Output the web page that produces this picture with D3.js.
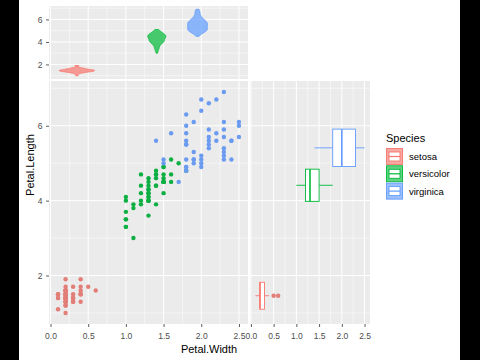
<!DOCTYPE html>
<html><head><meta charset="utf-8">
<script src="https://cdn.jsdelivr.net/npm/d3@7"></script>
<style>
body{margin:0;background:#fff}
svg{display:block}
text{font-family:"Liberation Sans",Arial,sans-serif}
</style>
</head><body>
<svg id="c" width="480" height="360"></svg>
<script>
// ---------- data (iris) ----------
const species = ["setosa", "versicolor", "virginica"];
const colors = ["#F8766D", "#00BA38", "#619CFF"];
const pointColors = ["#E27D77", "#0DAF43", "#6A9BF0"];

const setosaLength = [1.4,1.4,1.3,1.5,1.4,1.7,1.4,1.5,1.4,1.5,1.5,1.6,1.4,1.1,1.2,1.5,1.3,1.4,1.7,1.5,1.7,1.5,1.0,1.7,1.9,1.6,1.6,1.5,1.4,1.6,1.6,1.5,1.5,1.4,1.5,1.2,1.3,1.4,1.3,1.5,1.3,1.3,1.3,1.6,1.9,1.4,1.6,1.4,1.5,1.4];
const setosaWidth = [0.2,0.2,0.2,0.2,0.2,0.4,0.3,0.2,0.2,0.1,0.2,0.2,0.1,0.1,0.2,0.4,0.4,0.3,0.3,0.3,0.2,0.4,0.2,0.5,0.2,0.2,0.4,0.2,0.2,0.2,0.2,0.4,0.1,0.2,0.2,0.2,0.2,0.1,0.2,0.2,0.3,0.3,0.2,0.6,0.4,0.3,0.2,0.2,0.2,0.2];
const versicolorLength = [4.7,4.5,4.9,4.0,4.6,4.5,4.7,3.3,4.6,3.9,3.5,4.2,4.0,4.7,3.6,4.4,4.5,4.1,4.5,3.9,4.8,4.0,4.9,4.7,4.3,4.4,4.8,5.0,4.5,3.5,3.8,3.7,3.9,5.1,4.5,4.5,4.7,4.4,4.1,4.0,4.4,4.6,4.0,3.3,4.2,4.2,4.2,4.3,3.0,4.1];
const versicolorWidth = [1.4,1.5,1.5,1.3,1.5,1.3,1.6,1.0,1.3,1.4,1.0,1.5,1.0,1.4,1.3,1.4,1.5,1.0,1.5,1.1,1.8,1.3,1.5,1.2,1.3,1.4,1.4,1.7,1.5,1.0,1.1,1.0,1.2,1.6,1.5,1.6,1.5,1.3,1.3,1.3,1.2,1.4,1.2,1.0,1.3,1.2,1.3,1.3,1.1,1.3];
const virginicaLength = [6.0,5.1,5.9,5.6,5.8,6.6,4.5,6.3,5.8,6.1,5.1,5.3,5.5,5.0,5.1,5.3,5.5,6.7,6.9,5.0,5.7,4.9,6.7,4.9,5.7,6.0,4.8,4.9,5.6,5.8,6.1,6.4,5.6,5.1,5.6,6.1,5.6,5.5,4.8,5.4,5.6,5.1,5.1,5.9,5.7,5.2,5.0,5.2,5.4,5.1];
const virginicaWidth = [2.5,1.9,2.1,1.8,2.2,2.1,1.7,1.8,1.8,2.5,2.0,1.9,2.1,2.0,2.4,2.3,1.8,2.2,2.3,1.5,2.3,2.0,2.0,1.8,2.1,1.8,1.8,1.8,2.1,1.6,1.9,2.0,2.2,1.5,1.4,2.3,2.4,1.8,1.8,2.1,2.4,2.3,1.9,2.3,2.5,2.3,1.9,2.0,2.3,1.8];

const xTicks = [0, 0.5, 1, 1.5, 2, 2.5];
const xMinor = [0.25, 0.75, 1.25, 1.75, 2.25];
const yTicks = [2, 4, 6];
const yMinor = [1, 3, 5, 7];

// violin placement (top panel) and box placement (right panel)
const violinX = [0.35, 1.41, 1.95];
const violinHalfWidth = [0.232, 0.12, 0.133];
const boxY = [1.46, 4.41, 5.41];
const boxHalfHeight = [0.36, 0.43, 0.5];

const lengths = [setosaLength, versicolorLength, virginicaLength];
const widths = [setosaWidth, versicolorWidth, virginicaWidth];

// ---------- layout ----------
const svg = d3.select("#c");
svg.append("rect").attr("x",0).attr("y",0).attr("width",480).attr("height",360).attr("fill","#fff");

const xDom = [-0.02, 2.62], yDom = [0.705, 7.195];
const xM = d3.scaleLinear().domain(xDom).range([49, 248]);
const xR = d3.scaleLinear().domain(xDom).range([250, 370]);
const yM = d3.scaleLinear().domain(yDom).range([324, 81]);
const yT = d3.scaleLinear().domain(yDom).range([79, 6]);

function panel(xs, ys) {
  const g = svg.append("g");
  const [x0, x1] = xs.range(), [y1, y0] = ys.range();
  g.append("rect").attr("x", x0).attr("y", y0).attr("width", x1 - x0).attr("height", y1 - y0).attr("fill", "#EBEBEB");
  g.selectAll(".mx").data(xMinor).join("line").attr("x1", d => xs(d)).attr("x2", d => xs(d)).attr("y1", y0).attr("y2", y1).attr("stroke", "#fff").attr("stroke-width", 0.5);
  g.selectAll(".my").data(yMinor.filter(d => d > yDom[0] && d < yDom[1])).join("line").attr("y1", d => ys(d)).attr("y2", d => ys(d)).attr("x1", x0).attr("x2", x1).attr("stroke", "#fff").attr("stroke-width", 0.5);
  g.selectAll(".Mx").data(xTicks).join("line").attr("x1", d => xs(d)).attr("x2", d => xs(d)).attr("y1", y0).attr("y2", y1).attr("stroke", "#fff").attr("stroke-width", 1);
  g.selectAll(".My").data(yTicks).join("line").attr("y1", d => ys(d)).attr("y2", d => ys(d)).attr("x1", x0).attr("x2", x1).attr("stroke", "#fff").attr("stroke-width", 1);
  return g;
}

function styleAxis(g) {
  g.select(".domain").remove();
  g.selectAll(".tick line").attr("stroke", "#333").attr("stroke-width", 0.8);
  g.selectAll(".tick text").attr("fill", "#4D4D4D").style("font-size", "8.5px").style("font-family", '"Liberation Sans",Arial,sans-serif');
}

// ---------- top panel: violins ----------
const gTop = panel(xM, yT);
function bwNrd0(v) {
  const sd = d3.deviation(v);
  const iqr = d3.quantile(v, 0.75) - d3.quantile(v, 0.25);
  let lo = Math.min(sd, iqr / 1.34);
  if (!(lo > 0)) lo = sd || Math.abs(v[0]) || 1;
  return 0.9 * lo * Math.pow(v.length, -0.2);
}
function kde(v, n) {
  const bw = bwNrd0(v), lo = d3.min(v), hi = d3.max(v);
  const out = [];
  for (let i = 0; i < n; i++) {
    const t = lo + (hi - lo) * i / (n - 1);
    let s = 0;
    for (const d of v) { const z = (t - d) / bw; s += Math.exp(-0.5 * z * z); }
    out.push([t, s / (v.length * bw * Math.sqrt(2 * Math.PI))]);
  }
  return out;
}
species.forEach((sp, i) => {
  const dens = kde(lengths[i], 200);
  const mx = d3.max(dens, d => d[1]);
  const right = dens.map(d => [xM(violinX[i] + violinHalfWidth[i] * d[1] / mx), yT(d[0])]);
  const left = dens.slice().reverse().map(d => [xM(violinX[i] - violinHalfWidth[i] * d[1] / mx), yT(d[0])]);
  gTop.append("path").attr("d", d3.line()(right.concat(left)) + "Z")
    .attr("fill", colors[i]).attr("fill-opacity", 0.7)
    .attr("stroke", colors[i]).attr("stroke-width", 0.8);
});
const ayT = svg.append("g").attr("transform", `translate(${xM.range()[0]},0)`)
  .call(d3.axisLeft(yT).tickValues(yTicks).tickFormat(d3.format("d")).tickSize(3).tickPadding(3.5));
styleAxis(ayT);

// ---------- main panel: scatter ----------
const gMain = panel(xM, yM);
species.forEach((sp, i) => {
  gMain.selectAll(null).data(d3.zip(widths[i], lengths[i])).join("circle")
    .attr("cx", d => xM(d[0])).attr("cy", d => yM(d[1])).attr("r", 2.2)
    .attr("fill", pointColors[i]);
});
const ayM = svg.append("g").attr("transform", `translate(${xM.range()[0]},0)`)
  .call(d3.axisLeft(yM).tickValues(yTicks).tickFormat(d3.format("d")).tickSize(3).tickPadding(3.5));
styleAxis(ayM);
const axM = svg.append("g").attr("transform", `translate(0,${yM.range()[0]})`)
  .call(d3.axisBottom(xM).tickValues(xTicks).tickFormat(d3.format(".1f")).tickSize(3).tickPadding(5.5));
styleAxis(axM);

// ---------- right panel: boxplots ----------
const gRight = panel(xR, yM);
species.forEach((sp, i) => {
  const v = widths[i];
  const q1 = d3.quantile(v, 0.25), med = d3.quantile(v, 0.5), q3 = d3.quantile(v, 0.75);
  const iqr = q3 - q1;
  const inside = v.filter(d => d >= q1 - 1.5 * iqr && d <= q3 + 1.5 * iqr);
  const wLo = d3.min(inside), wHi = d3.max(inside);
  const outl = Array.from(new Set(v.filter(d => d < q1 - 1.5 * iqr || d > q3 + 1.5 * iqr)));
  const cy = yM(boxY[i]);
  const top = yM(boxY[i] + boxHalfHeight[i]), bot = yM(boxY[i] - boxHalfHeight[i]);
  const g = gRight.append("g");
  g.append("line").attr("x1", xR(wLo)).attr("x2", xR(q1)).attr("y1", cy).attr("y2", cy).attr("stroke", colors[i]).attr("stroke-width", 0.9);
  g.append("line").attr("x1", xR(q3)).attr("x2", xR(wHi)).attr("y1", cy).attr("y2", cy).attr("stroke", colors[i]).attr("stroke-width", 0.9);
  g.append("rect").attr("x", xR(q1)).attr("y", top).attr("width", xR(q3) - xR(q1)).attr("height", bot - top)
    .attr("fill", "#fff").attr("stroke", colors[i]).attr("stroke-width", 0.9);
  g.append("line").attr("x1", xR(med)).attr("x2", xR(med)).attr("y1", top).attr("y2", bot).attr("stroke", colors[i]).attr("stroke-width", 1.6);
  g.selectAll(null).data(outl).join("circle").attr("cx", d => xR(d)).attr("cy", cy).attr("r", 2.2).attr("fill", pointColors[i]);
});
const axR = svg.append("g").attr("transform", `translate(0,${yM.range()[0]})`)
  .call(d3.axisBottom(xR).tickValues(xTicks).tickFormat(d3.format(".1f")).tickSize(3).tickPadding(5.5));
styleAxis(axR);

// ---------- titles ----------
svg.append("text").attr("x", 209).attr("y", 353).attr("text-anchor", "middle")
  .style("font-size", "11px").attr("fill", "#000").text("Petal.Width");
svg.append("text").attr("transform", "translate(34,165) rotate(-90)").attr("text-anchor", "middle")
  .style("font-size", "11px").attr("fill", "#000").text("Petal.Length");

// ---------- legend ----------
const lg = svg.append("g").attr("transform", "translate(386,130)");
lg.append("text").attr("x", 0).attr("y", 12).style("font-size", "11px").attr("fill", "#000").text("Species");
species.forEach((sp, i) => {
  const ky = 18 + i * 17.3;
  const k = lg.append("g").attr("transform", `translate(0,${ky})`);
  k.append("rect").attr("x", 0).attr("y", 0).attr("width", 17).attr("height", 17).attr("fill", "#F2F2F2");
  k.append("rect").attr("x", 0.5).attr("y", 0.5).attr("width", 16).attr("height", 16)
    .attr("fill", colors[i]).attr("fill-opacity", 0.6).attr("stroke", colors[i]).attr("stroke-width", 0.9);
  k.append("rect").attr("x", 3).attr("y", 4).attr("width", 11).attr("height", 9)
    .attr("fill", "#fff").attr("stroke", colors[i]).attr("stroke-width", 0.9);
  k.append("line").attr("x1", 3).attr("x2", 14).attr("y1", 8.5).attr("y2", 8.5).attr("stroke", colors[i]).attr("stroke-width", 1.2);
  k.append("text").attr("x", 23).attr("y", 12).style("font-size", "9.5px").attr("fill", "#000").text(sp);
});

// ---------- black side borders of the photograph ----------
svg.append("rect").attr("x", 0).attr("y", 0).attr("width", 19).attr("height", 360).attr("fill", "#000");
svg.append("rect").attr("x", 460).attr("y", 0).attr("width", 20).attr("height", 360).attr("fill", "#000");
</script>
</body></html>
